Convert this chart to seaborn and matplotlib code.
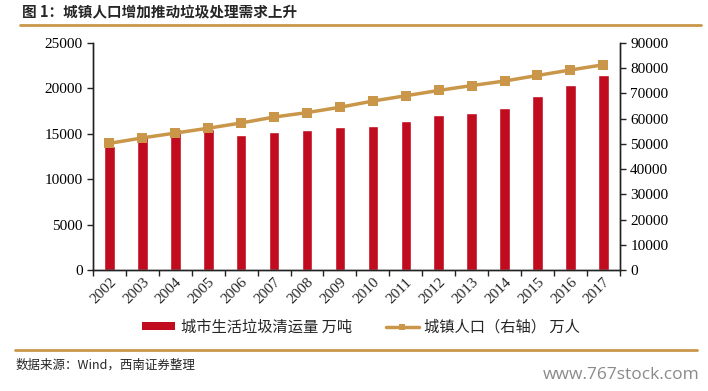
import numpy as np
import pandas as pd
import matplotlib
matplotlib.use("Agg")
import matplotlib.pyplot as plt
from matplotlib.lines import Line2D
from matplotlib.patches import Patch
import seaborn as sns

# data
years = [str(y) for y in range(2002, 2018)]
garbage = [13650, 14857, 15509, 15577, 14841, 15215, 15438, 15734,
           15805, 16395, 17081, 17239, 17860, 19142, 20362, 21521]  # 万吨
urban_pop = [50212, 52376, 54283, 56212, 58288, 60633, 62403, 64512,
             66978, 69079, 71182, 73111, 74916, 77116, 79298, 81347]  # 万人

bar_label = "城市生活垃圾清运量 万吨"
line_label = "城镇人口（右轴） 万人"
title = "图 1：城镇人口增加推动垃圾处理需求上升"
source = "数据来源：Wind，西南证券整理"

RED = "#C00C1E"
GOLD = "#C9964A"
CJK = ["Noto Sans CJK SC", "DejaVu Sans"]

sns.set_style("white")
plt.rcParams["font.family"] = ["Liberation Serif", "Noto Sans CJK SC"]

df = pd.DataFrame({"year": years, "garbage": garbage, "pop": urban_pop})

fig = plt.figure(figsize=(7.08, 3.91), dpi=100)
ax = fig.add_axes([0.1314, 0.3095, 0.744, 0.5806])

sns.barplot(data=df, x="year", y="garbage", color=RED, width=0.32,
            saturation=1, ax=ax)
ax.set_xlim(-0.5, len(years) - 0.5)
ax.set_ylim(0, 25000)
ax.set_yticks(range(0, 25001, 5000))
ax.set_xlabel("")
ax.set_ylabel("")

ax2 = ax.twinx()
sns.lineplot(x=np.arange(len(years)), y=urban_pop, ax=ax2, color=GOLD,
             linewidth=2.5, marker="s", markersize=7, markeredgewidth=0)
ax2.set_ylim(0, 90000)
ax2.set_yticks(range(0, 90001, 10000))
ax2.set_xlim(-0.5, len(years) - 0.5)

for a in (ax, ax2):
    a.spines["top"].set_visible(False)
    for s in ("left", "right", "bottom"):
        a.spines[s].set_color("#222222")
        a.spines[s].set_linewidth(1.0)
    a.tick_params(axis="y", labelsize=11, length=4, width=1, colors="#222222",
                  direction="out")

ax.tick_params(axis="y", left=True, labelcolor="black")
ax2.tick_params(axis="y", right=True, labelcolor="black")

# x ticks: labels centred at bars, tick marks at category boundaries
ax.set_xticks(np.arange(len(years)))
ax.set_xticklabels(years, rotation=45, ha="right", rotation_mode="anchor",
                   fontsize=11)
ax.tick_params(axis="x", length=0, pad=4)
ax.set_xticks(np.arange(-0.5, len(years)), minor=True)
ax.tick_params(axis="x", which="minor", bottom=True, length=4, width=1,
               color="#222222")

# legend
handles = [Patch(facecolor=RED, edgecolor="none"),
           Line2D([], [], color=GOLD, linewidth=2.5, marker="s",
                  markersize=5, markeredgewidth=0)]
fig.legend(handles, [bar_label, line_label], loc="center",
           bbox_to_anchor=(0.51, 0.163), ncol=2, frameon=False,
           prop={"family": CJK, "size": 11}, handlelength=2.2,
           handleheight=0.45, columnspacing=2.2, handletextpad=0.35)

# title and rules
fig.text(0.031, 0.968, title, fontsize=10.5, fontweight="bold", va="center",
         ha="left", family=CJK)
fig.add_artist(Line2D([0.028, 0.99], [0.935, 0.935], color=GOLD, linewidth=2))
fig.add_artist(Line2D([0.021, 0.985], [0.105, 0.105], color=GOLD, linewidth=2))
fig.text(0.022, 0.066, source, fontsize=9, style="italic", va="center",
         ha="left", family=CJK)
fig.text(0.988, 0.042, "www.767stock.com", fontsize=12.5, color="#8a8a8a",
         va="center", ha="right", family=["Open Sans", "DejaVu Sans"])

fig.savefig("out.png", dpi=100)
